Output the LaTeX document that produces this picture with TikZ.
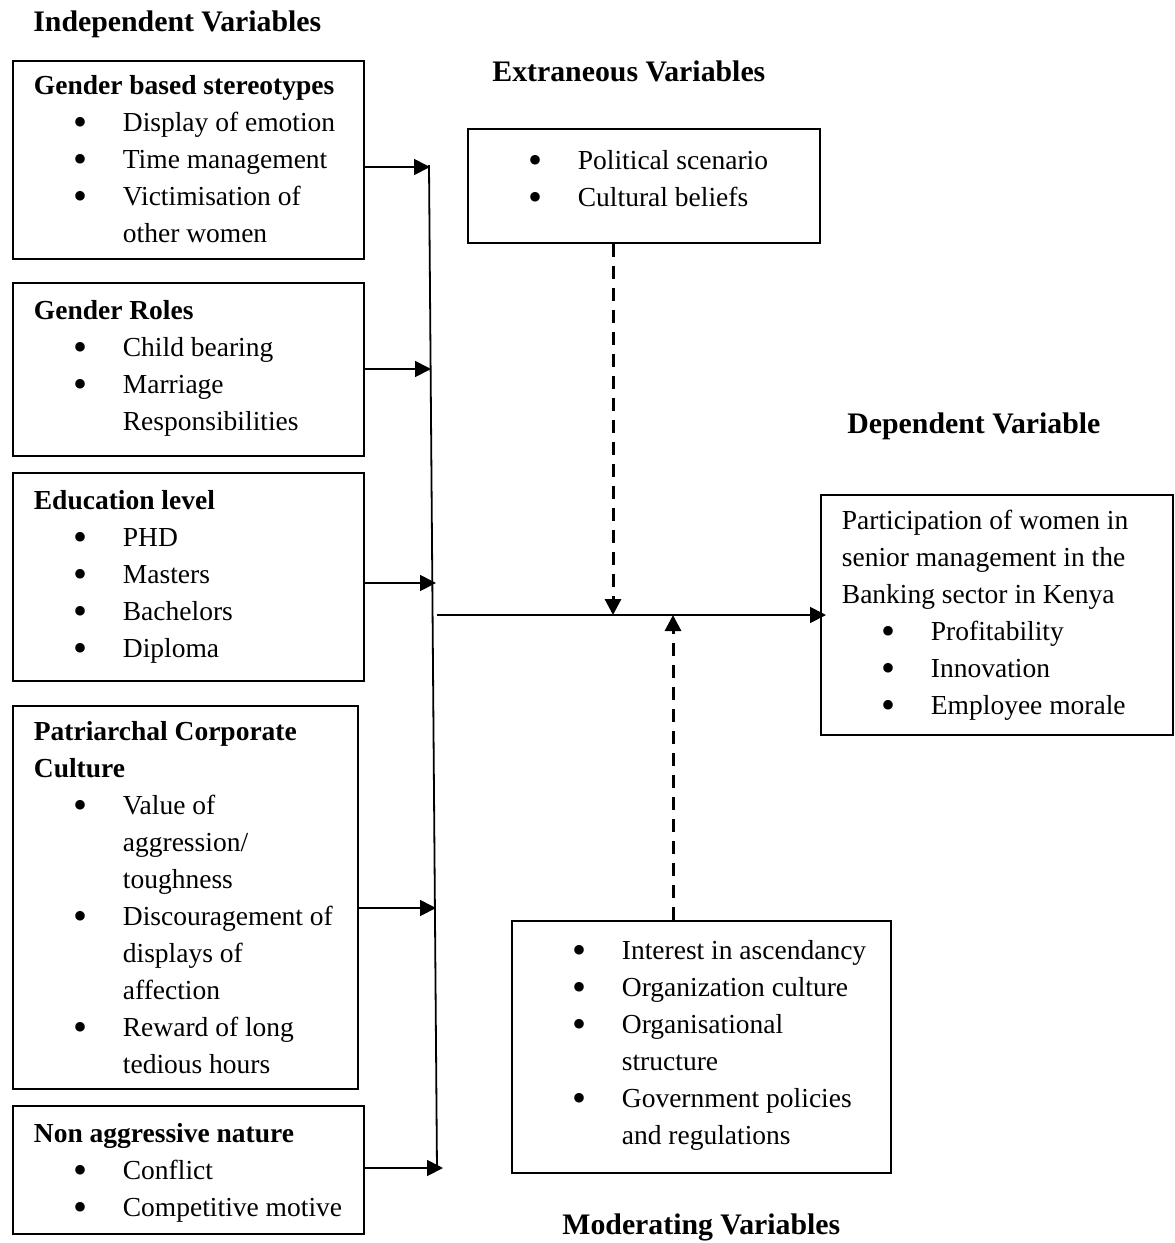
\documentclass[tikz,border=0pt]{standalone}
\usepackage{fontspec}
\setmainfont{Liberation Serif}
\usetikzlibrary{arrows.meta}
\newcommand{\itm}[1]{\mbox{\makebox[44.5pt][l]{\hspace{20pt}\raisebox{-2pt}{\fontsize{20}{18}\selectfont\textbullet}}#1}}
\newcommand{\cnt}[1]{\mbox{\hspace*{44.5pt}#1}}
\newcommand{\boxtext}[4]{\parbox[c][#2][t]{#1}{\raggedright\vspace*{#3}\strut#4}}
\begin{document}
\begin{tikzpicture}[x=0.5pt,y=-0.5pt,
  varbox/.style={draw,line width=0.9pt,inner xsep=10.5pt,inner ysep=0pt,anchor=north west,
    font=\fontsize{13.75}{18.5}\selectfont},
  head/.style={anchor=base west,inner sep=0pt,font=\fontsize{14.9}{18}\selectfont\bfseries},
  arr/.style={line width=0.9pt,-{Triangle[length=8pt,width=8pt]}},
  dashline/.style={line width=1.5pt,dash pattern=on 6.5pt off 4.5pt}]
\useasboundingbox (0,0) rectangle (1174,1243);

\node[head] (hind) at (33,31) {Independent Variables};
\node[head] (hext) at (492,81) {Extraneous Variables};
\node[head] (hdep) at (847,433) {Dependent Variable};
\node[head] (hmod) at (562,1234) {Moderating Variables};

\node[varbox] (gbs) at (12,60) {\boxtext{154.5pt}{99pt}{4pt}{%
  \textbf{Gender based stereotypes}\\
  \itm{Display of emotion}\\
  \itm{Time management}\\
  \itm{Victimisation of}\\
  \cnt{other women}}};
\node[varbox] (roles) at (12,282) {\boxtext{154.5pt}{86.5pt}{5.5pt}{%
  \textbf{Gender Roles}\\
  \itm{Child bearing}\\
  \itm{Marriage}\\
  \cnt{Responsibilities}}};
\node[varbox] (edu) at (12,472) {\boxtext{154.5pt}{104pt}{5.5pt}{%
  \textbf{Education level}\\
  \itm{PHD}\\
  \itm{Masters}\\
  \itm{Bachelors}\\
  \itm{Diploma}}};
\node[varbox] (patr) at (12,705) {\boxtext{151.5pt}{191.5pt}{4.5pt}{%
  \textbf{Patriarchal Corporate}\\
  \textbf{Culture}\\
  \itm{Value of}\\
  \cnt{aggression/}\\
  \cnt{toughness}\\
  \itm{Discouragement of}\\
  \cnt{displays of}\\
  \cnt{affection}\\
  \itm{Reward of long}\\
  \cnt{tedious hours}}};
\node[varbox] (nonag) at (12,1105) {\boxtext{154.5pt}{64pt}{5.5pt}{%
  \textbf{Non aggressive nature}\\
  \itm{Conflict}\\
  \itm{Competitive motive}}};

\node[varbox] (ext) at (467,128) {\boxtext{155pt}{57pt}{7.5pt}{%
  \itm{Political scenario}\\
  \itm{Cultural beliefs}}};
\node[varbox] (mod) at (511,920) {\boxtext{168.5pt}{126pt}{6.5pt}{%
  \itm{Interest in ascendancy}\\
  \itm{Organization culture}\\
  \itm{Organisational}\\
  \cnt{structure}\\
  \itm{Government policies}\\
  \cnt{and regulations}}};
\node[varbox] (dep) at (820,494) {\boxtext{155pt}{120pt}{4.5pt}{%
  Participation of women in\\
  senior management in the\\
  Banking sector in Kenya\\
  \itm{Profitability}\\
  \itm{Innovation}\\
  \itm{Employee morale}}};

% collecting line
\coordinate (vtop) at (429,165);
\coordinate (vbot) at (437,1170);
\draw[line width=0.9pt] (vtop) -- (vbot);
\coordinate (a1) at (430,167);
\coordinate (a2) at (431,369);
\coordinate (a3) at (436,583);
\coordinate (a4) at (436,908);
\coordinate (a5) at (443,1168);
\draw[arr] (gbs.east |- a1) -- (a1);
\draw[arr] (roles.east |- a2) -- (a2);
\draw[arr] (edu.east |- a3) -- (a3);
\draw[arr] (patr.east |- a4) -- (a4);
\draw[arr] (nonag.east |- a5) -- (a5);

\coordinate (hub) at (437,615);
\draw[arr] (hub) -- ([xshift=3pt]hub -| dep.west);
\coordinate (e1) at (613,615);
\coordinate (m1) at (673,615);
\draw[arr,dashline] (ext.south -| e1) -- (e1);
\draw[arr,dashline] (mod.north -| m1) -- (m1);
\end{tikzpicture}
\end{document}
